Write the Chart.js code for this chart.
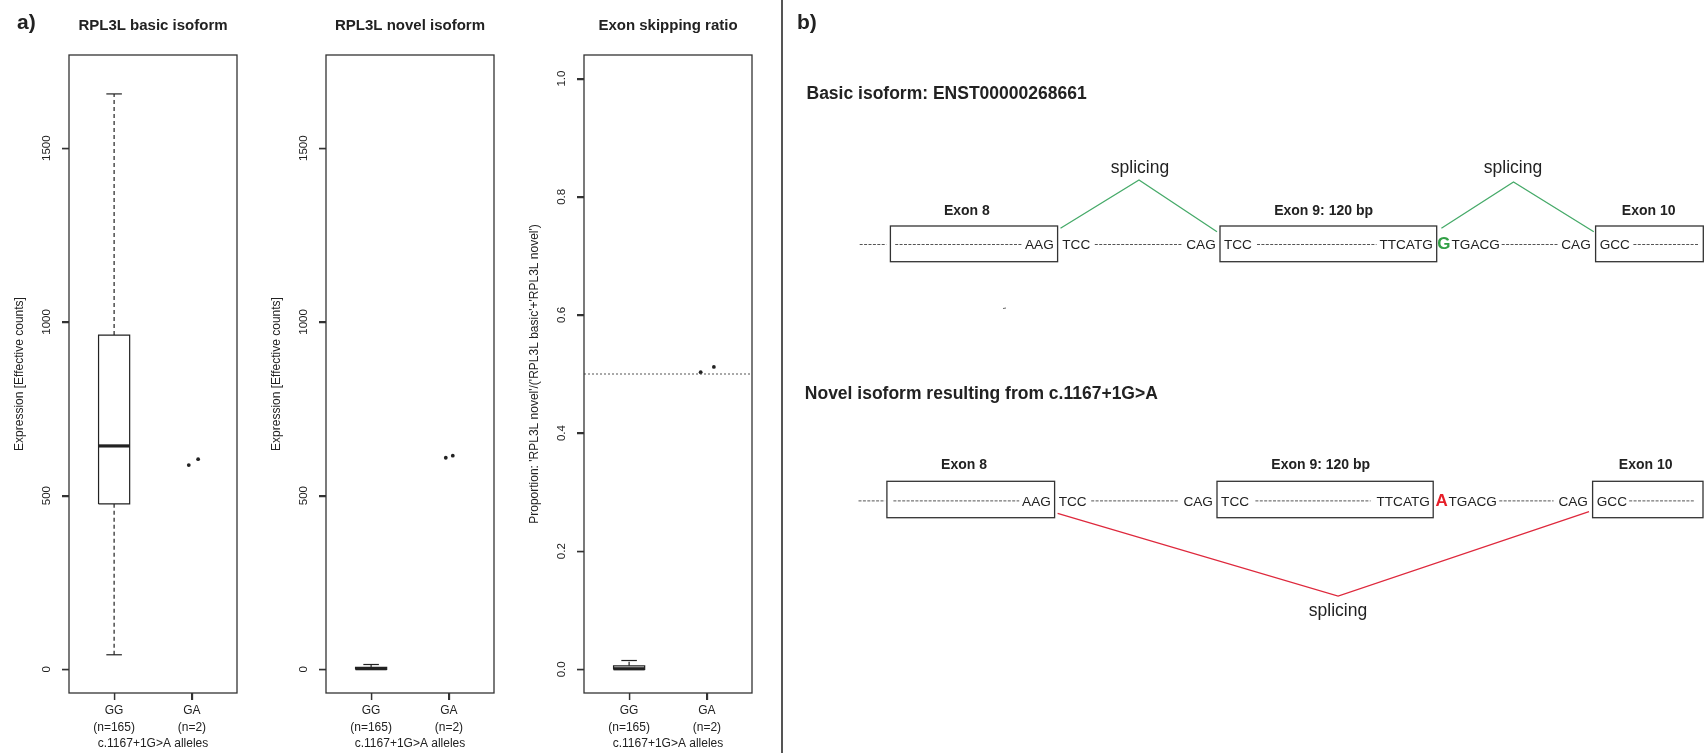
<!DOCTYPE html>
<html>
<head>
<meta charset="utf-8">
<title>RPL3L exon skipping</title>
<script src="https://cdn.jsdelivr.net/npm/chart.js@4.4.1/dist/chart.umd.min.js"></script>
<style>
  html, body { margin: 0; padding: 0; background: #fff; }
  #page { position: relative; width: 1706px; height: 753px; overflow: hidden; font-family: "Liberation Sans", Arial, sans-serif; color: #222; }
  canvas { position: absolute; top: 0; }
  .tag { position: absolute; top: 10px; font: bold 21px "Liberation Sans", Arial, sans-serif; line-height: normal; }
  #divider { position: absolute; left: 781px; top: 0; width: 2px; height: 753px; background: #555; }
</style>
</head>
<body>
<div id="page">
  <canvas id="basic" width="257" height="753" style="left:0"></canvas>
  <canvas id="novel" width="257" height="753" style="left:257px"></canvas>
  <canvas id="ratio" width="257" height="753" style="left:515px"></canvas>
  <div id="divider"></div>
  <canvas id="scheme" width="923" height="753" style="left:783px"></canvas>
  <div class="tag" style="left:17px">a)</div>
  <div class="tag" style="left:797px">b)</div>
</div>
<script>
const alleleGroups = ['GG', 'GA'];
const alleleCounts = ['(n=165)', '(n=2)'];
const groupPos = [1, 2];

const exprTicks = [0, 500, 1000, 1500];
const exprTickLabels = ['0', '500', '1000', '1500'];
const ratioTicks = [0, 0.2, 0.4, 0.6, 0.8, 1];
const ratioTickLabels = ['0.0', '0.2', '0.4', '0.6', '0.8', '1.0'];

// GG boxes: whisker low, Q1, median, Q3, whisker high
const basicGG = [42, 476, 643, 962, 1656];
const novelGG = [0, 0, 2, 6, 14];
const ratioGG = [0, 0, 0.001, 0.006, 0.015];

// GA: two samples, drawn as jittered points
const basicGAx = [1.96, 2.08];
const basicGAy = [588, 605];
const novelGAx = [1.96, 2.05];
const novelGAy = [609, 615];
const ratioGAx = [1.92, 2.09];
const ratioGAy = [0.503, 0.512];

const ratioRef = 0.5;

const ink = '#222';
const fontFamily = '"Liberation Sans", Arial, sans-serif';
Chart.defaults.font.family = fontFamily;
Chart.defaults.color = ink;

// frame round the plot, tick marks and R style rotated y tick labels
const rFrame = {
  id: 'rFrame',
  afterDraw(chart, args, opts) {
    const {ctx, chartArea: a, scales: {x, y}} = chart;
    ctx.save();
    ctx.strokeStyle = '#333';
    ctx.lineWidth = 1.3;
    ctx.strokeRect(a.left, a.top, a.right - a.left, a.bottom - a.top);
    ctx.beginPath();
    y.ticks.forEach(t => {
      const py = Math.round(y.getPixelForValue(t.value)) + 0.5;
      ctx.moveTo(a.left - 7, py);
      ctx.lineTo(a.left, py);
    });
    x.ticks.forEach(t => {
      const px = Math.round(x.getPixelForValue(t.value)) + 0.5;
      ctx.moveTo(px, a.bottom);
      ctx.lineTo(px, a.bottom + 7);
    });
    ctx.stroke();
    ctx.fillStyle = ink;
    ctx.font = '11.5px ' + fontFamily;
    ctx.textAlign = 'center';
    ctx.textBaseline = 'middle';
    y.ticks.forEach((t, i) => {
      ctx.save();
      ctx.translate(a.left - 22, y.getPixelForValue(t.value));
      ctx.rotate(-Math.PI / 2);
      ctx.fillText(opts.labels[i], 0, 0);
      ctx.restore();
    });
    ctx.restore();
  }
};

const seg = (pts, extra) => Object.assign({
  data: pts.map(([x, y]) => ({x, y})),
  showLine: true,
  pointRadius: 0,
  borderColor: '#222',
  borderWidth: 1.2,
  fill: false
}, extra);

function boxSets(s, x) {
  const [lo, q1, med, q3, hi] = s;
  const hw = 0.2, cap = 0.1;
  return [
    seg([[x - hw, q1], [x + hw, q1], [x + hw, q3], [x - hw, q3], [x - hw, q1]]),
    seg([[x - hw, med], [x + hw, med]], {borderWidth: 3.2}),
    seg([[x, q3], [x, hi]], {borderDash: [4, 3]}),
    seg([[x, lo], [x, q1]], {borderDash: [4, 3]}),
    seg([[x - cap, hi], [x + cap, hi]]),
    seg([[x - cap, lo], [x + cap, lo]])
  ];
}

function makePanel(id, title, yTitle, summary, gaX, gaY, yMin, yMax, ticks, tickLabels, ref) {
  const datasets = boxSets(summary, groupPos[0]);
  if (ref !== undefined) {
    datasets.push(seg([[0.42, ref], [2.58, ref]], {borderDash: [2, 2], borderColor: '#555', borderWidth: 1}));
  }
  datasets.push({
    data: gaX.map((x, i) => ({x, y: gaY[i]})),
    pointRadius: 1.9,
    pointBackgroundColor: ink,
    pointBorderWidth: 0
  });

  new Chart(document.getElementById(id), {
    type: 'scatter',
    data: {datasets},
    options: {
      responsive: false,
      animation: false,
      events: [],
      layout: {padding: {left: 0, right: 20, top: 0, bottom: 0}},
      scales: {
        x: {
          type: 'linear',
          min: 0.42,
          max: 2.58,
          afterBuildTicks: s => { s.ticks = groupPos.map(v => ({value: v})); },
          afterFit: s => { s.height = 60; },
          border: {display: false},
          grid: {drawOnChartArea: false, drawTicks: true, tickLength: 7, color: '#333', lineWidth: 1.2},
          ticks: {
            autoSkip: false,
            maxRotation: 0,
            padding: 3,
            font: {size: 12, lineHeight: 1.35},
            callback: v => [alleleGroups[groupPos.indexOf(v)], alleleCounts[groupPos.indexOf(v)]]
          },
          title: {display: true, text: 'c.1167+1G>A alleles', font: {size: 12}, padding: {bottom: 2, top: 0}}
        },
        y: {
          min: yMin,
          max: yMax,
          afterBuildTicks: s => { s.ticks = ticks.map(v => ({value: v})); },
          afterFit: s => { s.width = 69; },
          border: {display: false},
          grid: {drawOnChartArea: false, drawTicks: true, tickLength: 7, color: '#333', lineWidth: 1.2},
          ticks: {display: false},
          title: {display: true, text: yTitle, font: {size: 12}, padding: {top: 12, bottom: 0}}
        }
      },
      plugins: {
        legend: {display: false},
        tooltip: {enabled: false},
        title: {
          display: true,
          text: title,
          fullSize: false,
          color: ink,
          font: {size: 15, weight: 'bold'},
          padding: {top: 17, bottom: 20}
        },
        rFrame: {labels: tickLabels}
      }
    },
    plugins: [rFrame]
  });
}

makePanel('basic', 'RPL3L basic isoform', 'Expression [Effective counts]',
  basicGG, basicGAx, basicGAy, -68, 1768, exprTicks, exprTickLabels);
makePanel('novel', 'RPL3L novel isoform', 'Expression [Effective counts]',
  novelGG, novelGAx, novelGAy, -68, 1768, exprTicks, exprTickLabels);
makePanel('ratio', 'Exon skipping ratio', "Proportion: 'RPL3L novel'/('RPL3L basic'+'RPL3L novel')",
  ratioGG, ratioGAx, ratioGAy, -0.04, 1.04, ratioTicks, ratioTickLabels, ratioRef);

// ---- b) splicing scheme, laid out in page pixels ----
const green = 'rgb(70,170,105)';
const red = 'rgb(222,40,60)';

const isoforms = [
  {
    title: 'Basic isoform: ENST00000268661', titleX: 806.5, titleY: 98.5,
    labelY: 215, labels: [[966.9, 'Exon 8'], [1323.6, 'Exon 9: 120 bp'], [1648.7, 'Exon 10']],
    boxTop: 226, boxBot: 261.7, boxes: [[890.4, 1057.6], [1220, 1436.7], [1595.6, 1703.3]],
    seqY: 249.3,
    seq: [[1025, 'AAG'], [1062.3, 'TCC'], [1186.3, 'CAG'], [1224, 'TCC'], [1379.4, 'TTCATG'],
          [1451.5, 'TGACG'], [1561.3, 'CAG'], [1599.7, 'GCC']],
    site: [1437.3, 'G', 'rgb(50,160,70)'],
    dashes: [[859.7, 886.3], [895.2, 1022.1], [1094.8, 1181.6], [1257, 1376.5], [1501.7, 1558.4], [1633.4, 1698.3]],
    color: green,
    splices: [[[1060.5, 228.3], [1139, 180], [1217, 231.7]], [[1441.4, 228.3], [1513.5, 182], [1593.8, 231.7]]],
    spliceText: [[1140, 173], [1513, 173]]
  },
  {
    title: 'Novel isoform resulting from c.1167+1G>A', titleX: 804.8, titleY: 399,
    labelY: 469, labels: [[964, 'Exon 8'], [1320.7, 'Exon 9: 120 bp'], [1645.7, 'Exon 10']],
    boxTop: 481.3, boxBot: 517.7, boxes: [[886.9, 1054.6], [1217, 1433.2], [1592.6, 1703]],
    seqY: 505.7,
    seq: [[1022.1, 'AAG'], [1058.7, 'TCC'], [1183.4, 'CAG'], [1221.1, 'TCC'], [1376.5, 'TTCATG'],
          [1448.5, 'TGACG'], [1558.4, 'CAG'], [1596.8, 'GCC']],
    site: [1435.5, 'A', 'rgb(230,30,40)'],
    dashes: [[858.5, 885.1], [893.4, 1019.2], [1091.2, 1178.6], [1255.4, 1370.6], [1499.3, 1553.6], [1629.2, 1694.2]],
    color: red,
    splices: [[[1057.6, 513.3], [1338.1, 596], [1589, 511.7]]],
    spliceText: [[1338, 616]]
  }
];

const schemePlugin = {
  id: 'scheme',
  afterDraw(chart) {
    const {ctx, scales: {x, y}} = chart;
    const X = v => x.getPixelForValue(v);
    const Y = v => y.getPixelForValue(v);
    ctx.save();
    ctx.textBaseline = 'alphabetic';
    isoforms.forEach(r => {
      ctx.fillStyle = ink;
      ctx.textAlign = 'left';
      ctx.font = 'bold 17.5px ' + fontFamily;
      ctx.fillText(r.title, X(r.titleX), Y(r.titleY));

      ctx.textAlign = 'center';
      ctx.font = 'bold 14px ' + fontFamily;
      r.labels.forEach(([cx, t]) => ctx.fillText(t, X(cx), Y(r.labelY)));

      ctx.strokeStyle = '#333';
      ctx.lineWidth = 1.3;
      r.boxes.forEach(([x0, x1]) => ctx.strokeRect(X(x0), Y(r.boxTop), X(x1) - X(x0), Y(r.boxBot) - Y(r.boxTop)));

      ctx.strokeStyle = '#555';
      ctx.lineWidth = 1;
      ctx.setLineDash([3, 1.4]);
      r.dashes.forEach(([x0, x1]) => {
        ctx.beginPath();
        ctx.moveTo(X(x0), Y(r.seqY - 4.8));
        ctx.lineTo(X(x1), Y(r.seqY - 4.8));
        ctx.stroke();
      });
      ctx.setLineDash([]);

      ctx.textAlign = 'left';
      ctx.font = '13.6px ' + fontFamily;
      r.seq.forEach(([sx, t]) => ctx.fillText(t, X(sx), Y(r.seqY)));
      ctx.font = 'bold 17px ' + fontFamily;
      ctx.fillStyle = r.site[2];
      ctx.fillText(r.site[1], X(r.site[0]), Y(r.seqY));

      ctx.strokeStyle = r.color;
      ctx.lineWidth = 1.3;
      r.splices.forEach(pts => {
        ctx.beginPath();
        pts.forEach(([px, py], i) => i ? ctx.lineTo(X(px), Y(py)) : ctx.moveTo(X(px), Y(py)));
        ctx.stroke();
      });

      ctx.fillStyle = ink;
      ctx.textAlign = 'center';
      ctx.font = '17.5px ' + fontFamily;
      r.spliceText.forEach(([cx, by]) => ctx.fillText('splicing', X(cx), Y(by)));
    });
    // small stray mark under the exon 8 box in the original
    ctx.strokeStyle = '#666';
    ctx.lineWidth = 1;
    ctx.beginPath();
    ctx.moveTo(X(1003), Y(308.5));
    ctx.lineTo(X(1006), Y(308));
    ctx.stroke();
    ctx.restore();
  }
};

new Chart(document.getElementById('scheme'), {
  type: 'scatter',
  data: {datasets: []},
  options: {
    responsive: false,
    animation: false,
    events: [],
    layout: {padding: 0},
    scales: {
      x: {type: 'linear', min: 783, max: 1706, display: false},
      y: {type: 'linear', min: 0, max: 753, reverse: true, display: false}
    },
    plugins: {legend: {display: false}, tooltip: {enabled: false}}
  },
  plugins: [schemePlugin]
});
</script>
</body>
</html>
